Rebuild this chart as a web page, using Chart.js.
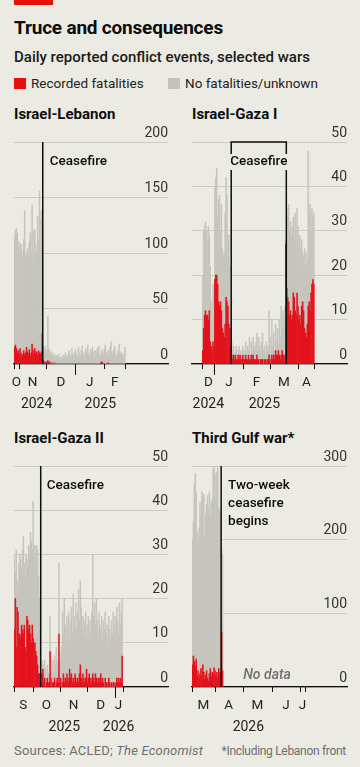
<!DOCTYPE html>
<html><head><meta charset="utf-8">
<script src="https://cdn.jsdelivr.net/npm/chart.js@4.4.1/dist/chart.umd.min.js"></script>
<style>
html,body{margin:0;padding:0;background:#ecebe3;}
body{width:360px;height:767px;position:relative;overflow:hidden;font-family:Roboto,'Liberation Sans',sans-serif;color:#0d0d0d;}
.abs{position:absolute;white-space:nowrap;}
#tag{left:14px;top:0;width:39px;height:5px;background:#e3120b;}
#title{left:14px;top:17px;font-size:19px;font-weight:700;line-height:22px;letter-spacing:-0.2px;}
#sub{left:14px;top:47px;font-size:15px;font-weight:500;line-height:20px;color:#1a1a1a;}
.leg{top:75px;font-size:13.5px;line-height:16px;color:#222;}
.sw{display:inline-block;width:12px;height:11px;vertical-align:-1px;margin-right:5px;}
.ptitle{font-size:15px;font-weight:700;line-height:18px;}
canvas{position:absolute;}
.foot{top:743px;font-size:13px;color:#6e6e6e;line-height:16px;}
</style></head>
<body>
<div id="tag" class="abs"></div>
<div id="title" class="abs">Truce and consequences</div>
<div id="sub" class="abs">Daily reported conflict events, selected wars</div>
<div class="abs leg" style="left:14px"><span class="sw" style="background:#e3120b"></span>Recorded fatalities</div>
<div class="abs leg" style="left:168px"><span class="sw" style="background:#c4c3bb"></span>No fatalities/unknown</div>
<div class="abs ptitle" style="left:14px;top:105px">Israel-Lebanon</div>
<div class="abs ptitle" style="left:192px;top:105px">Israel-Gaza I</div>
<div class="abs ptitle" style="left:14px;top:429px">Israel-Gaza II</div>
<div class="abs ptitle" style="left:192px;top:429px">Third Gulf war*</div>
<canvas id="c1" width="180" height="290" style="left:0;top:125px"></canvas>
<canvas id="c2" width="180" height="290" style="left:180px;top:125px"></canvas>
<canvas id="c3" width="180" height="290" style="left:0;top:449px"></canvas>
<canvas id="c4" width="180" height="290" style="left:180px;top:449px"></canvas>
<div class="abs foot" style="left:14px;letter-spacing:0.2px">Sources: ACLED; <i>The Economist</i></div>
<div class="abs foot" style="right:14px;font-size:12px;letter-spacing:-0.3px">*Including Lebanon front</div>
<script>
// ---------- data ----------
const monthLetters = ['J','F','M','A','M','J','J','A','S','O','N','D'];

// Israel-Lebanon, daily from 2024-10-27
const lebTotal = [115,120,122,118,105,110,98,108,102,95,112,138,100,96,104,98,110,118,100,143,120,95,121,108,100,133,112,156,130,138,100,
  15,12,16,13,10,43,14,12,9,11,8,7,9,6,8,5,7,9,6,4,7,5,8,6,10,7,5,9,12,8,6,14,9,7,11,13,8,6,15,10,
  7,12,16,9,6,11,14,8,17,10,7,13,9,15,11,6,12,8,14,10,16,9,7,13,11,8,14,17,10,7,12,9,15,20,11,8,13,16,9,6,12,10,18,8,11,6,9,5,15];
const lebFatal = [15,17,14,10,12,8,14,10,6,9,12,8,10,15,11,9,13,7,10,18,12,9,14,10,11,8,12,10,9,11,27,
  3,2,1,2,1,3,1,2,0,1,0,0,1,0,0,0,0,0,0,0,0,0,0,0,0,0,0,0,0,0,0,0,0,0,0,0,0,0,0,0,
  0,0,0,0,0,0,0,0,0,0,0,0,0,0,0,0,0,0,0,0,0,0,1,2,1,0,0,0,0,0,1,0,0,0,0,0,0,0,0,0,0,0,0,0,0,0,0,0,0];

// Israel-Gaza I, daily from 2024-12-19
const gz1Total = [20,30,31,32,30,28,31,29,22,14,10,18,17,40,42,44,33,37,38,30,36,26,24,25,34,42,38,27,29,22,14,
  5,3,4,2,3,4,2,3,4,3,2,3,4,2,3,5,2,4,3,6,2,5,3,6,4,2,5,7,3,6,4,2,5,7,3,4,2,5,3,4,
  12,6,3,10,4,7,3,9,5,8,4,10,6,13,8,12,9,13,28,
  35,33,36,30,32,29,31,33,28,34,30,35,31,27,29,26,28,25,24,26,22,25,23,48,34,36,30,35,32,34];
const gz1Fatal = [3,8,11,12,11,11,10,12,5,4,3,5,4,19,20,20,18,14,13,14,12,8,7,6,9,15,14,13,9,8,4,
  2,1,2,1,2,1,1,2,1,2,1,1,2,1,1,2,1,1,2,1,1,2,1,2,1,1,1,2,1,1,0,1,1,1,0,1,1,0,1,1,
  2,1,0,2,1,2,1,3,2,2,3,2,1,2,3,2,2,1,27,
  17,15,14,11,12,10,11,16,15,12,11,16,13,10,11,9,13,14,12,8,7,6,9,13,14,12,16,18,19,18];

// Israel-Gaza II, daily from 2025-09-10
const gz2Total = [30,26,31,24,22,28,30,29,27,31,34,28,25,30,29,27,32,30,35,33,31,42,30,32,28,32,31,25,20,12,
  4,6,5,3,6,4,2,5,3,3,16,8,4,6,3,7,5,9,6,4,28,8,6,9,17,12,20,14,10,16,
  13,17,11,15,18,12,21,16,14,19,13,17,22,15,24,18,13,16,12,15,17,11,14,16,12,15,13,17,30,16,
  19,14,20,15,12,17,14,13,16,11,15,13,17,12,14,10,16,13,11,15,12,17,14,16,13,18,15,12,19,14,17,20];
const gz2Fatal = [13,20,9,18,17,12,12,11,14,13,12,14,9,8,16,15,13,14,12,10,14,11,10,10,8,7,5,3,3,2,
  1,3,4,1,2,0,1,2,1,1,8,2,0,1,1,2,0,1,2,1,12,1,2,0,1,3,1,2,1,3,
  2,1,4,2,3,1,2,1,3,2,1,2,1,3,5,2,1,3,2,1,2,4,1,2,3,1,2,1,3,2,
  1,3,2,1,2,1,2,3,1,2,1,0,2,1,1,0,2,1,0,1,0,1,0,1,0,2,1,2,1,2,1,7];

// Third Gulf war, daily from 2026-03-08
const gulfTotal = [200,225,275,290,265,210,200,215,250,240,265,258,262,205,235,248,260,240,265,232,250,255,296,300,290,255,292,298,243,235,240,188,180];
const gulfFatal = [30,42,35,28,38,15,22,12,18,25,14,30,20,10,16,22,12,8,18,25,14,20,17,26,22,15,20,12,25,18,20,75,22];

const lebTicks = [0,50,100,150,200];
const gz1Ticks = [0,10,20,30,40,50];
const gz2Ticks = [0,10,20,30,40,50];
const gulfTicks = [0,100,200,300];

// ---------- drawing ----------
const RED = '#e3131b', GREY = '#c6c5bd', BG = '#ecebe3', INK = '#0d0d0d';
Chart.defaults.font.family = 'Roboto';

function dates(start, n) {
  const [y, m, d] = start.split('-').map(Number);
  return Array.from({length: n}, (_, i) => new Date(Date.UTC(y, m - 1, d + i)).toISOString().slice(0, 10));
}

const econ = {
  id: 'econ',
  afterDraw(chart, args, o) {
    const {ctx, chartArea: ca} = chart;
    const x = chart.scales.x;
    const labels = chart.data.labels;
    const half = (x.getPixelForValue(1) - x.getPixelForValue(0)) / 2;
    const edge = i => x.getPixelForValue(i) - half;
    ctx.save();
    // ceasefire lines
    ctx.strokeStyle = INK; ctx.lineWidth = 1.5;
    o.lines.forEach(i => { const px = edge(i); ctx.beginPath(); ctx.moveTo(px, ca.top); ctx.lineTo(px, ca.bottom); ctx.stroke(); });
    if (o.bracket) { ctx.beginPath(); ctx.moveTo(edge(o.lines[0]) - 0.75, ca.top); ctx.lineTo(edge(o.lines[1]) + 0.75, ca.top); ctx.stroke(); }
    ctx.font = '500 13.5px Roboto'; ctx.textBaseline = 'middle';
    o.note.forEach((t, k) => {
      const ty = ca.top + o.noteDy + k * 18;
      if (o.bracket) {
        const tx = (edge(o.lines[0]) + edge(o.lines[1])) / 2;
        const w = ctx.measureText(t).width;
        ctx.fillStyle = BG; ctx.fillRect(tx - w / 2 - 1, ty - 8, w + 2, 16);
        ctx.textAlign = 'center'; ctx.fillStyle = INK; ctx.fillText(t, tx, ty);
      } else {
        ctx.textAlign = 'left'; ctx.fillStyle = INK; ctx.fillText(t, edge(o.lines[0]) + o.noteDx, ty);
      }
    });
    if (o.noData) {
      ctx.font = 'italic 500 14px Roboto'; ctx.fillStyle = '#707070'; ctx.textAlign = 'center';
      ctx.fillText(o.noData, o.noDataX + ca.left, ca.bottom - 12);
    }
    // x ticks, months, years
    const s = o.winStart, e = o.winEnd;
    const b = [s];
    for (let i = s + 1; i < e; i++) if (labels[i].endsWith('-01')) b.push(i);
    b.push(e);
    ctx.lineWidth = 1; ctx.strokeStyle = INK;
    b.forEach(i => {
      const yr = labels[i].endsWith('01-01') && i !== s && i !== e;
      const px = Math.round(edge(i)) + 0.5;
      ctx.beginPath(); ctx.moveTo(px, ca.bottom); ctx.lineTo(px, ca.bottom + (yr ? 11 : 5)); ctx.stroke();
    });
    ctx.font = '13.5px Roboto'; ctx.textAlign = 'center'; ctx.fillStyle = '#222';
    for (let k = 0; k < b.length - 1; k++) {
      const m = +labels[b[k]].slice(5, 7) - 1;
      ctx.fillText(monthLetters[m], (edge(b[k]) + edge(b[k + 1])) / 2, ca.bottom + 19);
    }
    ctx.font = '14px Roboto';
    const yrs = {};
    for (let i = s; i < e; i++) { const y = labels[i].slice(0, 4); if (!(y in yrs)) yrs[y] = [i, i + 1]; yrs[y][1] = i + 1; }
    const shift = o.yearShift || {};
    Object.entries(yrs).forEach(([y, [a, c]]) => ctx.fillText(y, (edge(a) + edge(c)) / 2 + (shift[y] || 0), ca.bottom + 40));
    ctx.restore();
  }
};

function makeChart(id, cfg) {
  const labels = dates(cfg.start, cfg.count);
  const pad = Array(cfg.pad).fill(null);
  const fatal = [...pad, ...cfg.fatal];
  const other = [...pad, ...cfg.total.map((t, i) => t - cfg.fatal[i])];
  const tickVals = cfg.ticks;
  new Chart(document.getElementById(id), {
    type: 'bar',
    data: {labels, datasets: [
      {label: 'Recorded fatalities', data: fatal, backgroundColor: RED},
      {label: 'No fatalities/unknown', data: other, backgroundColor: GREY}
    ]},
    options: {
      responsive: false, animation: false, devicePixelRatio: 1,
      layout: {padding: cfg.padding},
      datasets: {bar: {barPercentage: 1, categoryPercentage: 1, borderWidth: 0}},
      plugins: {legend: {display: false}, tooltip: {enabled: false}, econ: cfg.econ},
      scales: {
        x: {stacked: true, ticks: {display: false}, grid: {display: false},
            border: {display: true, color: INK, width: 1.3}, afterFit: sc => { sc.height = 0; }},
        y: {stacked: true, position: 'right', min: tickVals[0], max: tickVals[tickVals.length - 1],
            afterBuildTicks: sc => { sc.ticks = tickVals.map(v => ({value: v})); },
            ticks: {mirror: true, padding: 0, labelOffset: -9, color: '#333', font: {size: 14}},
            grid: {color: '#cdcbc2', drawTicks: false, lineWidth: 1}, border: {display: false},
            afterFit: sc => { sc.width = 0; }}
      }
    },
    plugins: [econ]
  });
}

makeChart('c1', {start: '2024-10-27', count: 166, pad: 0, total: lebTotal, fatal: lebFatal, ticks: lebTicks,
  padding: {left: 14, right: 12, top: 17, bottom: 51},
  econ: {lines: [31], note: ['Ceasefire'], noteDx: 7, noteDy: 20, winStart: 0, winEnd: 120, yearShift: {'2024': -8}}});
makeChart('c2', {start: '2024-12-08', count: 166, pad: 11, total: gz1Total, fatal: gz1Fatal, ticks: gz1Ticks,
  padding: {left: 12, right: 13, top: 17, bottom: 51},
  econ: {lines: [42, 101], bracket: true, note: ['Ceasefire'], noteDy: 20, winStart: 11, winEnd: 131}});
makeChart('c3', {start: '2025-09-10', count: 173, pad: 0, total: gz2Total, fatal: gz2Fatal, ticks: gz2Ticks,
  padding: {left: 14, right: 12, top: 17, bottom: 52},
  econ: {lines: [30], note: ['Ceasefire'], noteDx: 6, noteDy: 20, winStart: 0, winEnd: 122}});
makeChart('c4', {start: '2026-03-08', count: 165, pad: 0, total: gulfTotal, fatal: gulfFatal, ticks: gulfTicks,
  padding: {left: 12, right: 13, top: 17, bottom: 52},
  econ: {lines: [31], note: ['Two-week', 'ceasefire', 'begins'], noteDx: 7, noteDy: 20, winStart: 0, winEnd: 120,
         noData: 'No data', noDataX: 75}});
</script>
</body></html>
